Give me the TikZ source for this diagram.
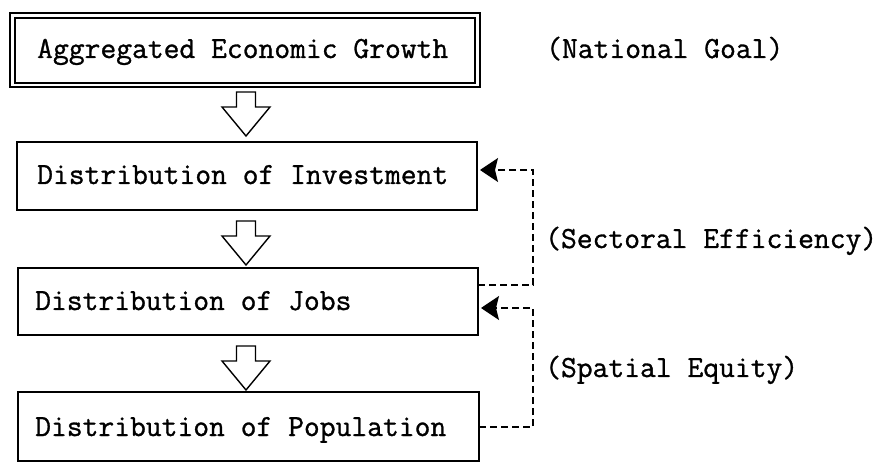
\documentclass[tikz,border=0pt]{standalone}
\usepackage{fontspec}
\newfontfamily\typew{Latin Modern Mono}[RawFeature={embolden=1.0}]
\usetikzlibrary{arrows.meta}
\begin{document}
\begin{tikzpicture}[x=1pt,y=-1pt,
  font=\fontsize{30.7}{36}\selectfont\typew,
  box/.style={draw, line width=1.5pt, inner sep=0pt, outer sep=0pt},
  lbl/.style={anchor=base west, inner sep=0pt},
  feedback/.style={draw, line width=1.5pt, dash pattern=on 7pt off 4pt,
    shorten >=3pt, -{Stealth[length=18pt,width=24pt,inset=3pt]}},
  hollow/.pic={
    \draw[line width=1.4pt, line join=miter]
      (-9.5,0) -- (9.5,0) -- (9.5,15) -- (24,15) -- (0,44)
      -- (-24,15) -- (-9.5,15) -- cycle;
  }]
\useasboundingbox (0,0) rectangle (879,465);

% boxes of the chain
\node[box, minimum width=460pt, minimum height=65pt] (growth) at (245,50.5) {};
\node[box, minimum width=460pt, minimum height=68pt] (invest) at (247,176) {};
\node[box, minimum width=460pt, minimum height=67pt] (jobs)   at (248,301.5) {};
\node[box, minimum width=461pt, minimum height=69pt] (pop)    at (248.5,426.5) {};

% heavier outer frame of the goal box
\draw[line width=2.3pt] ([shift={(-5,-5)}]growth.north west)
  rectangle ([shift={(5,4)}]growth.south east);

% box texts
\node[lbl] (tgrowth) at (37,58)  {Aggregated Economic Growth};
\node[lbl] (tinvest) at (37,184) {Distribution of Investment};
\node[lbl] (tjobs)   at (35,310) {Distribution of Jobs};
\node[lbl] (tpop)    at (35,436) {Distribution of Population};

% side notes
\node[lbl] (national) at (546,58)  {(National Goal)};
\node[lbl] (sectoral) at (545,248) {(Sectoral Efficiency)};
\node[lbl] (spatial)  at (545,377) {(Spatial Equity)};

% hollow block arrows between the boxes
\pic at (246,92)  {hollow};
\pic at (246,221) {hollow};
\pic at (246,346) {hollow};

% dashed feedback loops
\coordinate (up1) at (533,170);
\coordinate (dn1) at (533,285);
\coordinate (up2) at (533,308);
\coordinate (dn2) at (533,427);
\draw[feedback] (jobs.east |- dn1) -- (dn1) -- (up1) -- (invest.east |- up1);
\draw[feedback] (pop.east |- dn2) -- (dn2) -- (up2) -- (jobs.east |- up2);
\end{tikzpicture}
\end{document}
